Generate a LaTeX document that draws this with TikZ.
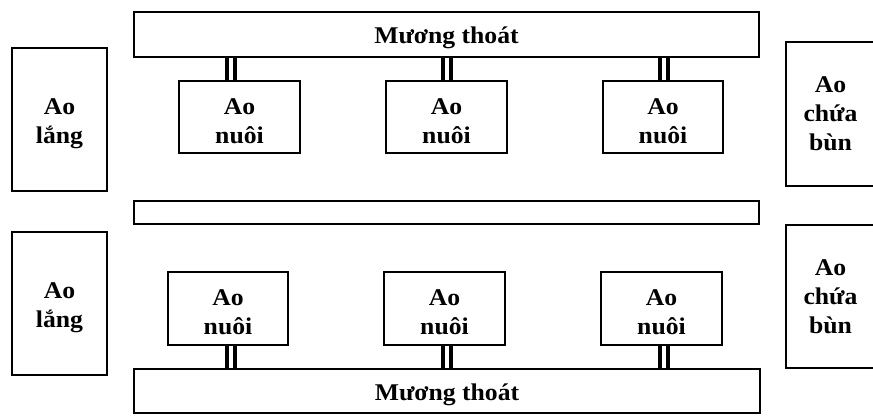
\documentclass[tikz,border=0pt]{standalone}
\usepackage{fontspec}
\setmainfont[FakeStretch=1.07]{Liberation Serif}
\tikzset{
  pond/.style={draw, line width=1.6pt, fill=white, align=center,
    inner sep=0pt, font=\fontsize{24}{29}\selectfont\bfseries},
  lowone/.style={text height=24pt},
  lowtwo/.style={text height=53pt},
  pipe/.style={draw, line width=4.3pt, double=white, double distance=4pt}
}
\begin{document}
\begin{tikzpicture}[x=1pt, y=-1pt]
  \useasboundingbox (0,0) rectangle (873,417);
  % upper row
  \node[pond, lowone, minimum width=625, minimum height=45] (muong1) at (446.5,34.5) {Mương thoát};
  \node[pond, lowtwo, minimum width=95, minimum height=143] (aolang1) at (59.5,119.5) {Ao\\lắng};
  \node[pond, minimum width=89, minimum height=144] (aochua1) at (830.5,114) {Ao\\chứa\\bùn};
  \node[pond, lowtwo, minimum width=121, minimum height=72] (nuoi1a) at (239.5,117) {Ao\\nuôi};
  \node[pond, lowtwo, minimum width=121, minimum height=72] (nuoi1b) at (446.5,117) {Ao\\nuôi};
  \node[pond, lowtwo, minimum width=120, minimum height=72] (nuoi1c) at (663,117) {Ao\\nuôi};
  % bar between the two rows
  \node[pond, minimum width=625, minimum height=23] (kenh) at (446.5,212.5) {};
  % lower row
  \node[pond, lowtwo, minimum width=95, minimum height=143] (aolang2) at (59.5,303.5) {Ao\\lắng};
  \node[pond, minimum width=89, minimum height=143] (aochua2) at (830.5,296.5) {Ao\\chứa\\bùn};
  \node[pond, lowtwo, minimum width=120, minimum height=73] (nuoi2a) at (228,308.5) {Ao\\nuôi};
  \node[pond, lowtwo, minimum width=121, minimum height=73] (nuoi2b) at (444.5,308.5) {Ao\\nuôi};
  \node[pond, lowtwo, minimum width=121, minimum height=73] (nuoi2c) at (661.5,308.5) {Ao\\nuôi};
  \node[pond, lowone, minimum width=626, minimum height=44] (muong2) at (447,391) {Mương thoát};
  % pipes to the drains
  \foreach \p/\x in {a/231, b/447, c/664} {
    \draw[pipe] (nuoi1\p.north -| \x,0) -- (muong1.south -| \x,0);
    \draw[pipe] (nuoi2\p.south -| \x,0) -- (muong2.north -| \x,0);
  }
\end{tikzpicture}
\end{document}
